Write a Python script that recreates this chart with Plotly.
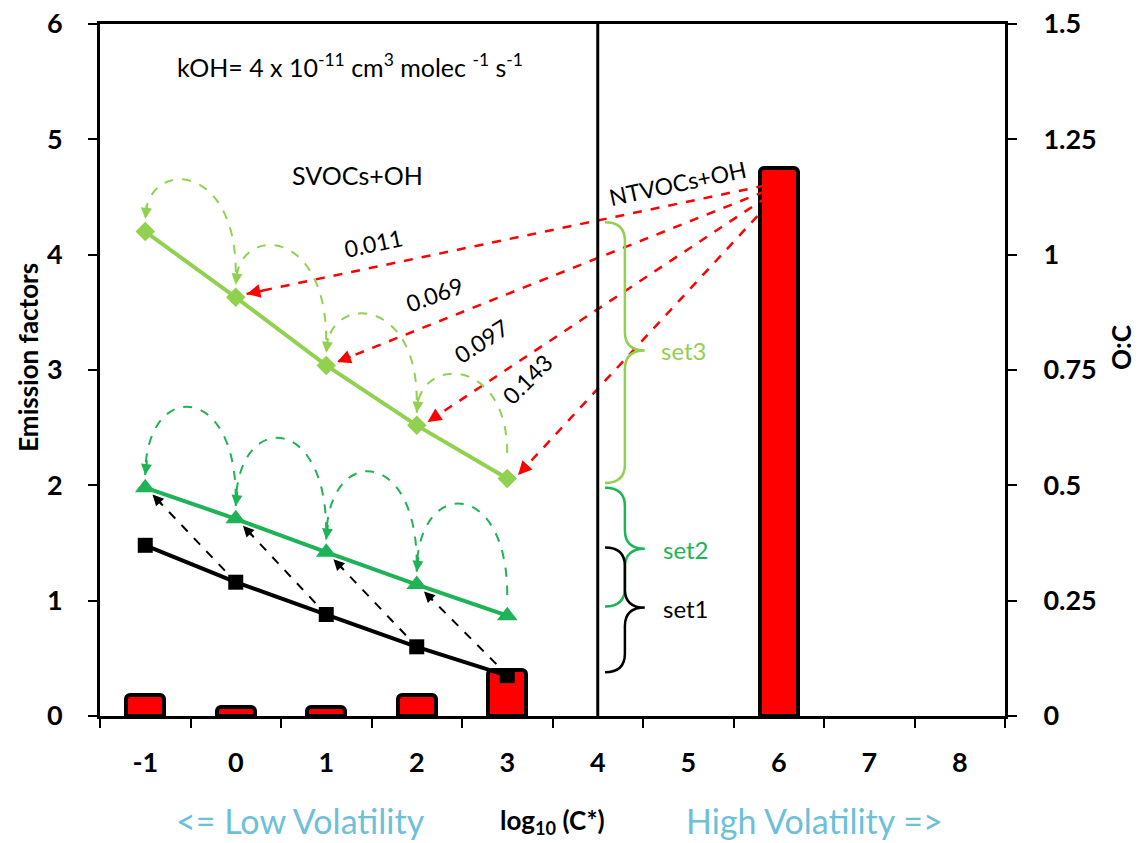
import plotly.graph_objects as go

# ---------------- data ----------------
log_cstar = [-1, 0, 1, 2, 3]
ntvoc_x = [6]
ef_svoc_bars = [0.18, 0.08, 0.08, 0.18, 0.40]
ef_ntvoc_bar = [4.75]
set3 = [4.20, 3.63, 3.04, 2.52, 2.06]
set2 = [1.98, 1.71, 1.42, 1.14, 0.87]
set1 = [1.48, 1.16, 0.88, 0.60, 0.35]
yield_labels = ["0.011", "0.069", "0.097", "0.143"]
x_tickvals = [-1, 0, 1, 2, 3, 4, 5, 6, 7, 8]
ef_tickvals = [0, 1, 2, 3, 4, 5, 6]
oc_tickvals = [0, 0.25, 0.5, 0.75, 1.0, 1.25, 1.5]
oc_ticktext = ["0", "0.25", "0.5", "0.75", "1", "1.25", "1.5"]

# ---------------- style ----------------
LG = "#92D050"
MG = "#1DB356"
RED = "#FF0000"
FONT = "Lato"
BLUE = "#6CC0D8"

fig = go.Figure()

# bars
fig.add_trace(go.Bar(x=log_cstar + ntvoc_x, y=ef_svoc_bars + ef_ntvoc_bar, width=0.42,
                     marker=dict(color=RED, line=dict(color="black", width=4), cornerradius=4),
                     showlegend=False, hoverinfo="skip"))

shapes = []
annotations = []

def arrowhead(x, y, ax, ay, color, width=2):
    annotations.append(dict(x=x, y=y, ax=ax, ay=ay, xref="x", yref="y", axref="x", ayref="y",
                            text="", showarrow=True, arrowhead=2, arrowsize=1.1, arrowwidth=width,
                            arrowcolor=color, standoff=0, startstandoff=0))

# dashed arcs
def arcs(vals, color, rise, start_off):
    for i in range(len(vals) - 1):
        xs, ys = log_cstar[i + 1], vals[i + 1] + start_off
        xe, ye = log_cstar[i], vals[i] + 0.11
        peak = vals[i] + rise
        ctrl = (peak - 0.125 * (ys + ye)) / 0.75
        shapes.append(dict(type="path", xref="x", yref="y",
                           path=f"M {xs},{ys} C {xs},{ctrl} {xe},{ctrl} {xe},{ye}",
                           line=dict(color=color, width=2, dash="dash")))
        arrowhead(xe, ye, xe + 0.02, ye + 0.14, color)

arcs(set3, LG, 0.44, 0.22)
arcs(set2, MG, 0.70, 0.18)

# black dashed arrows set1 -> set2
for i in range(len(set1) - 1):
    sx, sy = log_cstar[i + 1] - 0.12, set1[i + 1] + 0.10
    tx, ty = log_cstar[i] + 0.08, set2[i] - 0.06
    fig.add_trace(go.Scatter(x=[sx, tx], y=[sy, ty], mode="lines",
                             line=dict(color="black", width=2, dash="dash"),
                             showlegend=False, hoverinfo="skip"))
    f = 0.14
    arrowhead(tx, ty, tx + f * (sx - tx), ty + f * (sy - ty), "black")

# red dashed arrows NTVOC -> set3
red_starts = [(5.85, 4.60), (5.85, 4.55), (5.87, 4.50), (5.90, 4.45)]
for i in range(4):
    sx, sy = red_starts[i]
    tx, ty = log_cstar[i + 1] + 0.12, set3[i + 1] + 0.03
    fig.add_trace(go.Scatter(x=[sx, tx], y=[sy, ty], mode="lines",
                             line=dict(color=RED, width=2.5, dash="dash"),
                             showlegend=False, hoverinfo="skip"))
    f = 0.035
    arrowhead(tx, ty, tx + f * (sx - tx), ty + f * (sy - ty), RED, 2.5)

# series lines
fig.add_trace(go.Scatter(x=log_cstar, y=set3, mode="lines+markers",
                         line=dict(color=LG, width=4),
                         marker=dict(symbol="diamond", size=15, color=LG),
                         showlegend=False, hoverinfo="skip"))
fig.add_trace(go.Scatter(x=log_cstar, y=set2, mode="lines+markers",
                         line=dict(color=MG, width=4),
                         marker=dict(symbol="triangle-up", size=18, color=MG),
                         showlegend=False, hoverinfo="skip"))
fig.add_trace(go.Scatter(x=log_cstar, y=set1, mode="lines+markers",
                         line=dict(color="black", width=4),
                         marker=dict(symbol="square", size=15, color="black"),
                         showlegend=False, hoverinfo="skip"))

# invisible trace for the right axis
fig.add_trace(go.Scatter(x=[8], y=[0], yaxis="y2", mode="markers",
                         marker=dict(opacity=0), showlegend=False, hoverinfo="skip"))

# vertical separator
shapes.append(dict(type="line", xref="x", yref="y", x0=4, x1=4, y0=0, y1=6,
                   line=dict(color="black", width=3)))

# braces
def brace(x0, x1, x2, ytop, ybot, ymid, color, d=0.16):
    p = (f"M {x0},{ytop} Q {x1},{ytop} {x1},{ytop - d} L {x1},{ymid + d} "
         f"Q {x1},{ymid} {x2},{ymid} Q {x1},{ymid} {x1},{ymid - d} "
         f"L {x1},{ybot + d} Q {x1},{ybot} {x0},{ybot}")
    shapes.append(dict(type="path", xref="x", yref="y", path=p,
                       line=dict(color=color, width=2.5)))

brace(4.08, 4.30, 4.52, 4.28, 2.02, 3.17, LG)
brace(4.08, 4.30, 4.52, 1.98, 0.95, 1.45, MG)
brace(4.08, 4.30, 4.52, 1.46, 0.38, 0.94, "black")

def txt(x, y, s, size=23, color="black", angle=0, xref="x", yref="y", bold=False):
    annotations.append(dict(x=x, y=y, xref=xref, yref=yref, text=(f"<b>{s}</b>" if bold else s),
                            showarrow=False, textangle=angle, xanchor="center", yanchor="middle",
                            font=dict(family=FONT, size=size, color=color)))

txt(4.95, 3.17, "set3", 24, LG)
txt(4.97, 1.44, "set2", 24, MG)
txt(4.97, 0.93, "set1", 24, "black")

txt(1.26, 5.64, "kOH= 4 x 10<sup>-11</sup> cm<sup>3</sup> molec <sup>-1</sup> s<sup>-1</sup>", 25)
txt(1.35, 4.69, "SVOCs+OH", 25)
txt(4.88, 4.62, "NTVOCs+OH", 23, angle=-12)

label_pos = [(1.52, 4.10, -12), (2.20, 3.66, -20), (2.71, 3.25, -33), (3.22, 2.92, -45)]
for (lx, ly, ang), s in zip(label_pos, yield_labels):
    txt(lx, ly, s, 23, angle=ang)

# axis titles and volatility labels (paper coords relative to the plot area)
txt(-0.0796, 0.519, "Emission factors", 26, xref="paper", yref="paper", angle=-90, bold=True)
txt(1.128, 0.533, "O:C", 26, xref="paper", yref="paper", angle=-90, bold=True)
txt(0.5, -0.153, "log<sub>10</sub> (C*)", 26, xref="paper", yref="paper", bold=True)
txt(0.221, -0.151, "&lt;= Low Volatility", 34, BLUE, xref="paper", yref="paper")
txt(0.79, -0.151, "High Volatility =&gt;", 34, BLUE, xref="paper", yref="paper")

fig.update_layout(
    width=1148, height=843, autosize=False,
    margin=dict(l=100, r=143, t=24, b=127, pad=0, autoexpand=False),
    paper_bgcolor="white", plot_bgcolor="white",
    showlegend=False,
    bargap=0,
    shapes=shapes, annotations=annotations,
    font=dict(family=FONT, color="black"),
    xaxis=dict(range=[-1.5, 8.5], tickvals=x_tickvals, automargin=False,
               ticktext=[f"<b>{v}</b>" for v in x_tickvals],
               tickfont=dict(size=27), ticks="", ticklabelstandoff=21,
               minor=dict(tick0=-1.5, dtick=1, ticks="outside", ticklen=9, tickwidth=2, tickcolor="black"),
               showline=True, linecolor="black", linewidth=3, mirror=True,
               showgrid=False, zeroline=False),
    yaxis=dict(range=[0, 6], tickvals=ef_tickvals, automargin=False,
               ticktext=[f"<b>{v}</b>" for v in ef_tickvals],
               tickfont=dict(size=27), ticks="outside", ticklen=9, tickwidth=2, tickcolor="black",
               ticklabelstandoff=20,
               showline=True, linecolor="black", linewidth=3, mirror=True,
               showgrid=False, zeroline=False),
    yaxis2=dict(range=[0, 1.5], overlaying="y", side="right", tickvals=oc_tickvals, automargin=False,
                ticktext=[f"<b>{t}</b>" for t in oc_ticktext],
                tickfont=dict(size=27), ticks="outside", ticklen=9, tickwidth=2, tickcolor="black",
                ticklabelstandoff=21,
                showline=True, linecolor="black", linewidth=3,
                showgrid=False, zeroline=False),
)

fig.write_html("out.html", config={"displayModeBar": False},
               post_script="document.body.style.margin='0';document.body.style.overflow='hidden';")
